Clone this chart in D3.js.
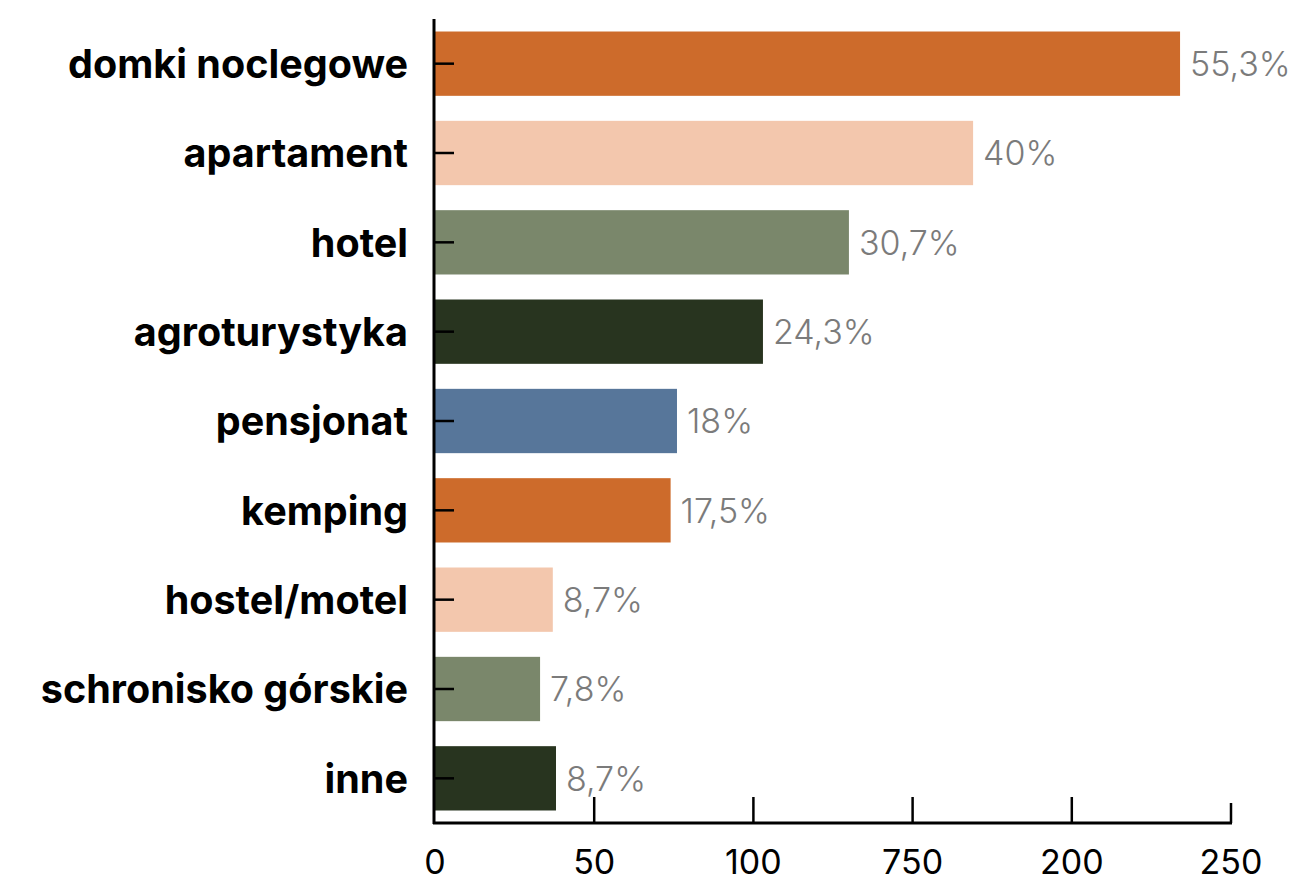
<!DOCTYPE html>
<meta charset="utf-8">
<style>
html, body { margin: 0; background: #fff; }
svg { display: block; }
.cat { font-family: Inter, "Noto Sans", sans-serif; font-weight: 700; fill: #000; }
.val { font-family: Inter, "Noto Sans", sans-serif; font-weight: 300; fill: #7b7b7b; }
.tick-lbl { font-family: Inter, "Noto Sans", sans-serif; font-weight: 400; fill: #000; }
</style>
<body>
<svg id="chart" width="1296" height="882"></svg>
<script src="https://cdn.jsdelivr.net/npm/d3@7"></script>
<script>

// data
var categories = ["domki noclegowe", "apartament", "hotel", "agroturystyka", "pensjonat",
                  "kemping", "hostel/motel", "schronisko górskie", "inne"]
var counts = [234, 169, 130, 103, 76, 74, 37, 33, 38]
var shares = ["55,3%", "40%", "30,7%", "24,3%", "18%", "17,5%", "8,7%", "7,8%", "8,7%"]
var tickValues = [0, 50, 100, 150, 200, 250]
var tickLabels = ["0", "50", "100", "750", "200", "250"]   // as printed in the source
var palette = ["#cd6b2b", "#f3c7ad", "#7a876b", "#28341f", "#57769a"]

var svg = d3.select("#chart")

var x = d3.scaleLinear().domain([0, 250]).range([435, 1231])
var y = d3.scaleBand().domain(categories).range([19, 823])
  .paddingInner(0.28).paddingOuter(0.14)

// bars
svg.append("g").selectAll("rect")
  .data(categories)
  .enter().append("rect")
    .attr("x", x(0) - 1)
    .attr("y", function(d) { return y(d) })
    .attr("width", function(d, i) { return x(counts[i]) - x(0) + 1 })
    .attr("height", y.bandwidth())
    .attr("fill", function(d, i) { return palette[i % palette.length] })

// percentage labels
svg.append("g").selectAll("text")
  .data(categories)
  .enter().append("text")
    .attr("class", "val")
    .attr("x", function(d, i) { return x(counts[i]) + 10 })
    .attr("y", function(d) { return y(d) + y.bandwidth() / 2 })
    .attr("dy", "0.36em")
    .style("font-size", "34px")
    .text(function(d, i) { return shares[i] })

// y axis: line + short inward ticks + bold labels
var yAxis = svg.append("g")
yAxis.append("line")
  .attr("x1", 434).attr("x2", 434)
  .attr("y1", y.range()[0]).attr("y2", y.range()[1] + 1)
  .attr("stroke", "#000").attr("stroke-width", 3)

yAxis.selectAll(".ytick")
  .data(categories)
  .enter().append("line")
    .attr("x1", 434).attr("x2", 454)
    .attr("y1", function(d) { return y(d) + y.bandwidth() / 2 })
    .attr("y2", function(d) { return y(d) + y.bandwidth() / 2 })
    .attr("stroke", "#000").attr("stroke-width", 2.5)

var catLabels = yAxis.selectAll(".cat")
  .data(categories)
  .enter().append("text")
    .attr("class", "cat")
    .attr("x", 408)
    .attr("y", function(d) { return y(d) + y.bandwidth() / 2 })
    .attr("dy", "0.36em")
    .attr("text-anchor", "end")
    .style("font-size", "34px")
    .text(function(d) { return d })

// fit label size so the longest one spans the same width as the source
var first = catLabels.filter(function(d, i) { return i === 0 }).node()
var w = first.getComputedTextLength()
catLabels.style("font-size", (34 * 340 / w).toFixed(2) + "px")

// x axis
var xAxis = svg.append("g")
xAxis.append("line")
  .attr("x1", 433).attr("x2", x(250) + 1)
  .attr("y1", 823).attr("y2", 823)
  .attr("stroke", "#000").attr("stroke-width", 3)

xAxis.selectAll(".xtick")
  .data(tickValues.slice(1))
  .enter().append("line")
    .attr("x1", function(d) { return x(d) })
    .attr("x2", function(d) { return x(d) })
    .attr("y1", function(d) { return d === 250 ? 803 : 797 })
    .attr("y2", 823)
    .attr("stroke", "#000").attr("stroke-width", 2.5)

xAxis.selectAll(".tick-lbl")
  .data(tickValues)
  .enter().append("text")
    .attr("class", "tick-lbl")
    .attr("x", function(d) { return x(d) })
    .attr("y", 874)
    .attr("text-anchor", "middle")
    .style("font-size", "34px")
    .text(function(d, i) { return tickLabels[i] })

</script>
</body>
